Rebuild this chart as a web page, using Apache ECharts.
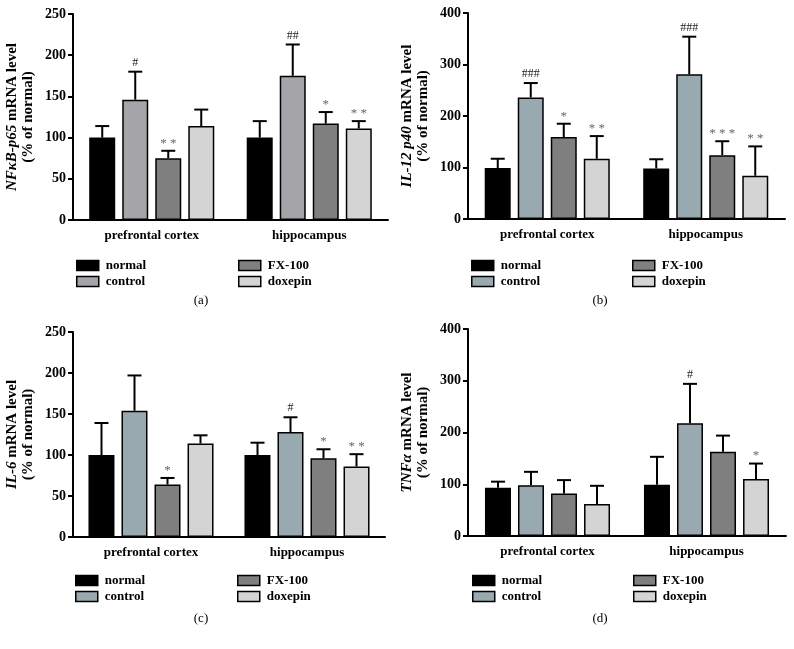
<!DOCTYPE html>
<html>
<head>
<meta charset="utf-8">
<script src="https://cdn.jsdelivr.net/npm/echarts@6/dist/echarts.min.js"></script>
<style>
    html, body { margin: 0; padding: 0; background: #fff; }
    #chart { width: 794px; height: 649px; }
</style>
</head>
<body>
<div id="chart"></div>
<script>
    var regions = ['prefrontal cortex', 'hippocampus'];
    var groups = ['normal', 'control', 'FX-100', 'doxepin'];

    // rows follow groups, columns follow regions
    var nfkbMean = [[100, 100], [146, 175], [75, 117], [114, 111]];
    var nfkbSem = [[14, 20], [34, 38], [9, 14], [20, 9]];
    var nfkbMarks = [['', ''], ['#', '##'], ['**', '*'], ['', '**']];

    var il12Mean = [[99, 98], [236, 281], [159, 124], [117, 84]];
    var il12Sem = [[18, 18], [28, 73], [26, 27], [44, 57]];
    var il12Marks = [['', ''], ['###', '###'], ['*', '***'], ['**', '**']];

    var il6Mean = [[100, 100], [154, 128], [64, 96], [114, 86]];
    var il6Sem = [[39, 15], [43, 18], [8, 11], [10, 15]];
    var il6Marks = [['', ''], ['', '#'], ['*', '*'], ['', '**']];

    var tnfMean = [[93, 99], [98, 218], [82, 163], [62, 110]];
    var tnfSem = [[12, 54], [26, 76], [26, 31], [35, 30]];
    var tnfMarks = [['', ''], ['', '#'], ['', ''], ['', '*']];

    var FONT = 'Liberation Serif';
    var BAR_W = 26, PITCH = 33;

    var panels = [
        {mean: nfkbMean, sem: nfkbSem, marks: nfkbMarks, max: 250, step: 50,
         gene: 'NFκB-p65', ctrl: '#a5a5a9', left: 73, top: 14, width: 315, height: 206,
         legTop: 254, leg1: 71, leg2: 233, tag: '(a)', tagX: 196, tagY: 289},
        {mean: il12Mean, sem: il12Sem, marks: il12Marks, max: 400, step: 100,
         gene: 'IL-12 p40', ctrl: '#98a9b0', left: 468, top: 13, width: 317, height: 206,
         legTop: 254, leg1: 466, leg2: 627, tag: '(b)', tagX: 595, tagY: 289},
        {mean: il6Mean, sem: il6Sem, marks: il6Marks, max: 250, step: 50,
         gene: 'IL-6', ctrl: '#98a9b0', left: 73, top: 332, width: 312, height: 205,
         legTop: 569, leg1: 70, leg2: 232, tag: '(c)', tagX: 196, tagY: 607},
        {mean: tnfMean, sem: tnfSem, marks: tnfMarks, max: 400, step: 100,
         gene: 'TNFα', ctrl: '#98a9b0', left: 468, top: 329, width: 318, height: 207,
         legTop: 569, leg1: 467, leg2: 628, tag: '(d)', tagX: 595, tagY: 607}
    ];

    var chart = echarts.init(document.getElementById('chart'));
    var grid = [], xAxis = [], yAxis = [], series = [], legend = [], title = [];

    panels.forEach(function (p, pi) {
        var colors = ['#000000', p.ctrl, '#7f7f7f', '#d4d4d4'];
        grid.push({left: p.left, top: p.top, width: p.width, height: p.height});
        xAxis.push({
            type: 'category', gridIndex: pi, data: regions,
            axisLine: {lineStyle: {color: '#000', width: 2}},
            axisTick: {alignWithLabel: true, length: 5, lineStyle: {color: '#000', width: 2}},
            axisLabel: {color: '#000', fontFamily: FONT, fontWeight: 'bold', fontSize: 13, margin: 9}
        });
        yAxis.push({
            type: 'value', gridIndex: pi, min: 0, max: p.max, interval: p.step,
            name: '{i|' + p.gene + '} mRNA level\n(% of normal)',
            nameLocation: 'middle', nameGap: 37, nameRotate: 90,
            nameTextStyle: {
                color: '#000', fontFamily: FONT, fontWeight: 'bold', fontSize: 15, lineHeight: 16,
                rich: {i: {fontStyle: 'italic', fontWeight: 'bold', fontFamily: FONT, fontSize: 15, lineHeight: 16, color: '#000'}}
            },
            axisLine: {show: true, lineStyle: {color: '#000', width: 2}},
            axisTick: {show: true, length: 5, lineStyle: {color: '#000', width: 2}},
            axisLabel: {color: '#000', fontFamily: FONT, fontWeight: 'bold', fontSize: 14, margin: 7},
            splitLine: {show: false}
        });

        groups.forEach(function (g, gi) {
            series.push({
                name: g, type: 'bar', xAxisIndex: pi, yAxisIndex: pi,
                data: p.mean[gi], barWidth: BAR_W, barGap: '27%',
                itemStyle: {color: colors[gi], borderColor: '#000', borderWidth: 1.5},
                emphasis: {disabled: true}
            });
        });

        // error bars + significance marks
        var errData = [], errMarks = [];
        groups.forEach(function (g, gi) {
            regions.forEach(function (r, ri) {
                errData.push([ri, gi, p.mean[gi][ri], p.sem[gi][ri]]);
                errMarks.push(p.marks[gi][ri]);
            });
        });
        series.push({
            type: 'custom', xAxisIndex: pi, yAxisIndex: pi, z: 5,
            encode: {x: 0, y: 2},
            data: errData,
            renderItem: function (params, api) {
                var ri = api.value(0), gi = api.value(1), m = api.value(2), s = api.value(3);
                var base = api.coord([ri, m]);
                var top = api.coord([ri, m + s]);
                var x = base[0] + (gi - 1.5) * PITCH;
                var kids = [
                    {type: 'line', shape: {x1: x, y1: base[1], x2: x, y2: top[1]}, style: {stroke: '#000', lineWidth: 2}},
                    {type: 'line', shape: {x1: x - 7, y1: top[1], x2: x + 7, y2: top[1]}, style: {stroke: '#000', lineWidth: 2}}
                ];
                var mk = errMarks[params.dataIndex];
                if (mk) {
                    var star = mk.charAt(0) === '*';
                    kids.push({
                        type: 'text', x: x, y: top[1] - (star ? 1 : 3),
                        style: {
                            text: star ? mk.split('').join(' ') : mk,
                            align: 'center', verticalAlign: 'bottom',
                            font: (star ? '13px ' : '12px ') + FONT,
                            fill: star ? '#666' : '#222'
                        }
                    });
                }
                return {type: 'group', children: kids};
            }
        });

        [[0, 1, p.leg1], [2, 3, p.leg2]].forEach(function (col) {
            legend.push({
                orient: 'vertical', left: col[2], top: p.legTop, icon: 'rect',
                itemWidth: 22, itemHeight: 10, itemGap: 3, selectedMode: false,
                textStyle: {color: '#000', fontFamily: FONT, fontWeight: 'bold', fontSize: 13, padding: [0, 0, 0, 2]},
                data: [col[0], col[1]].map(function (k) {
                    return {name: groups[k], itemStyle: {color: colors[k], borderColor: '#000', borderWidth: 1.5}};
                })
            });
        });

        title.push({
            text: p.tag, left: p.tagX, top: p.tagY, textAlign: 'center',
            textStyle: {fontFamily: FONT, fontWeight: 'normal', fontSize: 13, color: '#000'}
        });
    });

    chart.setOption({
        animation: false,
        title: title,
        grid: grid,
        xAxis: xAxis,
        yAxis: yAxis,
        legend: legend,
        series: series
    });
</script>
</body>
</html>
